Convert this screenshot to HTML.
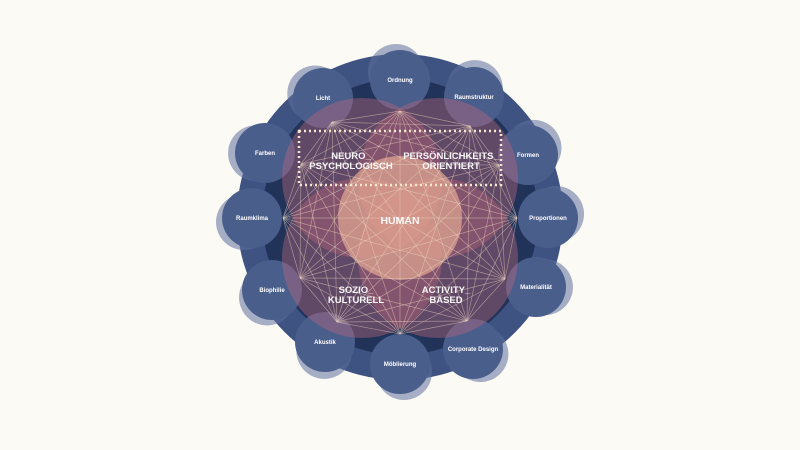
<!DOCTYPE html>
<html><head><style>
html,body{margin:0;padding:0;background:#fcfaf5;}
svg{display:block}
text{font-family:"Liberation Sans",sans-serif;fill:#fff;font-weight:bold;text-anchor:middle}
</style></head><body>
<svg width="800" height="450" viewBox="0 0 800 450" id="s">
<circle cx="400" cy="217" r="163" fill="#3f5383"/>
<circle cx="400" cy="217" r="138" fill="#22335a"/>
<g id="small"></g>
<g fill="#b8667a" fill-opacity="0.42">
<circle cx="362" cy="178" r="80"/>
<circle cx="438" cy="178" r="80"/>
<circle cx="362" cy="258" r="80"/>
<circle cx="438" cy="258" r="80"/>
</g>
<circle cx="400" cy="218" r="62" fill="#f2b898" fill-opacity="0.6"/>
<g id="lines" stroke="#f3dcc4" stroke-opacity="0.5" stroke-width="0.7"></g>
<rect x="299" y="131" width="202" height="54" fill="none" stroke="#f6e6cf" stroke-width="2.5" stroke-dasharray="2 3"/>
<g font-size="9.5" fill-opacity="0.95">
<text x="351" y="159">NEURO_</text>
<text x="351" y="169">PSYCHOLOGISCH</text>
<text x="451" y="159">PERSÖNLICHKEITS_</text>
<text x="451" y="169">ORIENTIERT</text>
<text x="400" y="224" font-size="10.5">HUMAN</text>
<text x="356" y="293">SOZIO_</text>
<text x="356" y="303">KULTURELL</text>
<text x="446" y="293">ACTIVITY_</text>
<text x="446" y="303">BASED</text>
</g>
</svg>
<script>
var ns="http://www.w3.org/2000/svg";
var items=[["Ordnung",400,80],["Raumstruktur",474,97],["Formen",528,155],["Proportionen",548,218],["Materialität",536,287],["Corporate Design",473,349],["Möblierung",400,364],["Akustik",325,342],["Biophilie",272,290],["Raumklima",252,218],["Farben",265,153],["Licht",323,98]];
var g=document.getElementById("small");
items.forEach(function(it){
 var dx=it[1]-400,dy=it[2]-217,d=Math.sqrt(dx*dx+dy*dy);
 var c2=document.createElementNS(ns,"circle");
 c2.setAttribute("cx",400+dx/d*(d+8)+dy/d*4);c2.setAttribute("cy",217+dy/d*(d+8)-dx/d*4);
 c2.setAttribute("r",28);c2.setAttribute("fill","#5d6f9a");c2.setAttribute("fill-opacity","0.55");g.appendChild(c2);
 var c=document.createElementNS(ns,"circle");
 c.setAttribute("cx",it[1]);c.setAttribute("cy",it[2]);c.setAttribute("r",30);c.setAttribute("fill","#4a5e8c");g.appendChild(c);
 var t=document.createElementNS(ns,"text");t.setAttribute("x",it[1]);t.setAttribute("y",it[2]+2);
 t.setAttribute("font-size","6");t.textContent=it[0];g.appendChild(t);
});
var nodes=[[400,111],[470,126],[499,165],[517,218],[505,279],[467,321],[400,334],[337,322],[300,278],[283,218],[301,164],[332,122]];
var L=document.getElementById("lines");
for(var i=0;i<nodes.length;i++)for(var j=i+1;j<nodes.length;j++){
 var l=document.createElementNS(ns,"line");
 l.setAttribute("x1",nodes[i][0]);l.setAttribute("y1",nodes[i][1]);l.setAttribute("x2",nodes[j][0]);l.setAttribute("y2",nodes[j][1]);L.appendChild(l);}
</script>
</body></html>
